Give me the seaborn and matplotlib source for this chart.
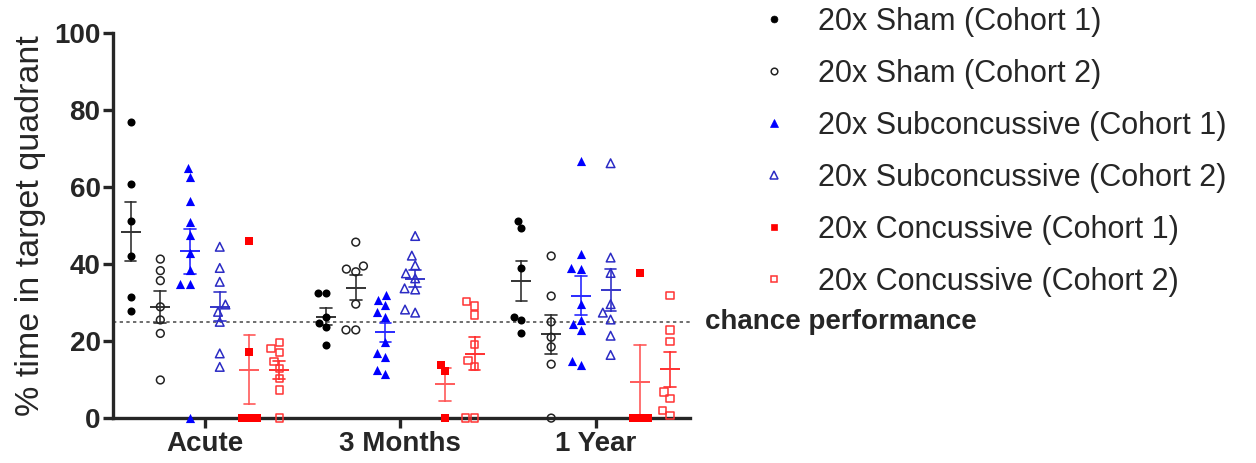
import numpy as np
import matplotlib
matplotlib.use('Agg')
import matplotlib.pyplot as plt
from matplotlib.lines import Line2D
import seaborn as sns

# time points on the x axis
timepoints = ["Acute", "3 Months", "1 Year"]

# % time in target quadrant, one list per time point (Acute, 3 Months, 1 Year)
sham_c1 = [[77.0, 60.8, 51.2, 42.2, 31.4, 27.9],
           [32.4, 32.4, 26.2, 24.6, 23.6, 19.0],
           [51.2, 49.3, 39.0, 26.3, 25.5, 22.2]]
sham_c2 = [[41.3, 38.3, 35.7, 28.9, 25.5, 22.0, 9.9],
           [45.7, 39.5, 38.7, 38.0, 29.6, 22.9, 22.9],
           [42.1, 31.7, 25.0, 21.0, 18.5, 14.0, 0.0]]
sub_c1 = [[65.0, 62.7, 56.4, 51.0, 47.5, 42.9, 38.4, 34.7, 34.7, 0.0],
          [31.9, 30.8, 29.4, 27.6, 26.3, 19.8, 16.8, 15.8, 12.6, 11.4],
          [66.7, 42.5, 39.1, 38.6, 29.6, 25.6, 24.4, 23.0, 14.9, 13.8]]
sub_c2 = [[44.5, 39.0, 35.4, 29.5, 27.6, 25.0, 16.8, 13.3],
          [47.3, 42.2, 39.7, 37.6, 36.3, 33.7, 33.4, 28.2, 27.4],
          [66.2, 41.7, 37.7, 29.6, 27.4, 25.6, 21.4, 16.4]]
conc_c1 = [[46.0, 17.1, 0.0, 0.0, 0.0],
           [13.9, 12.3, 0.0],
           [37.8, 0.0, 0.0, 0.0]]
conc_c2 = [[19.7, 18.1, 17.1, 14.8, 12.9, 10.3, 7.3, 0.0],
           [30.2, 29.1, 26.8, 19.2, 14.9, 13.3, 0.0, 0.0],
           [31.8, 22.9, 19.8, 6.8, 5.1, 1.9, 0.6]]

group_labels = ["20x Sham (Cohort 1)", "20x Sham (Cohort 2)",
                "20x Subconcussive (Cohort 1)", "20x Subconcussive (Cohort 2)",
                "20x Concussive (Cohort 1)", "20x Concussive (Cohort 2)"]
chance_level = 25

series = [sham_c1, sham_c2, sub_c1, sub_c2, conc_c1, conc_c2]

# marker styles per group
styles = [
    dict(marker='o', size=5.8, color='black', face='black', lw=0, bar='#333333'),
    dict(marker='o', size=5.6, color='#222222', face='none', lw=1.1, bar='#333333'),
    dict(marker='^', size=6.6, color='#0000ff', face='#0000ff', lw=0, bar='#2a2aff'),
    dict(marker='^', size=6.2, color='#2b2bc4', face='none', lw=1.1, bar='#3535c8'),
    dict(marker='s', size=5.2, color='#ff0000', face='#ff0000', lw=0, bar='#ff5a5a'),
    dict(marker='s', size=5.2, color='#ff3333', face='none', lw=1.1, bar='#ff3030'),
]

sns.set_style("ticks")
plt.rcParams['font.family'] = ['Liberation Sans', 'DejaVu Sans']

fig = plt.figure(figsize=(12.56, 4.63), dpi=100)
ax = fig.add_axes([0.09, 0.097, 0.459, 0.8315])

offsets = np.linspace(-0.38, 0.38, len(series))
for vals, off, st in zip(series, offsets, styles):
    x = np.concatenate([np.full(len(v), i + off) for i, v in enumerate(vals)])
    y = np.concatenate(vals)
    sns.swarmplot(x=x, y=y, native_scale=True, orient='x', ax=ax,
                  marker=st['marker'], size=st['size'], color=st['color'],
                  facecolor=st['face'], edgecolor=st['color'],
                  linewidth=st['lw'], clip_on=False, zorder=3)
    sns.pointplot(x=x, y=y, native_scale=True, orient='x', ax=ax,
                  errorbar='se', capsize=0.06, marker='_', markersize=15,
                  markeredgewidth=1.4, linestyle='none', color=st['bar'],
                  err_kws={'linewidth': 1.2})

ax.axhline(chance_level, color='#555555', linestyle=(0, (2, 2)), linewidth=1.2, zorder=1)
ax.text(1.027, chance_level, "chance performance", transform=ax.get_yaxis_transform(),
        ha='left', va='center', fontsize=20, fontweight='bold')

ax.set_xlim(-0.47, 2.48)
ax.set_ylim(0, 100)
ax.set_xticks(range(len(timepoints)))
ax.set_xticklabels(timepoints, fontsize=20, fontweight='bold')
ax.set_yticks(range(0, 101, 20))
ax.set_yticklabels([str(t) for t in range(0, 101, 20)], fontsize=20, fontweight='bold')
ax.set_ylabel("% time in target quadrant", fontsize=24.5, labelpad=6)
ax.set_xlabel("")
sns.despine(ax=ax)
for s in ['left', 'bottom']:
    ax.spines[s].set_linewidth(2.4)
ax.tick_params(axis='both', length=7, width=2.4, pad=2)

handles = [Line2D([], [], marker=st['marker'], linestyle='none', markersize=st['size'] * 0.85,
                  markerfacecolor=st['face'], markeredgecolor=st['color'],
                  markeredgewidth=max(st['lw'], 0.5))
           for st in styles]
fig.legend(handles, group_labels, loc='upper left', bbox_to_anchor=(0.57, 1.045),
           frameon=False, fontsize=22, labelspacing=0.72, handletextpad=0.45)

fig.savefig("out.png", dpi=100)
